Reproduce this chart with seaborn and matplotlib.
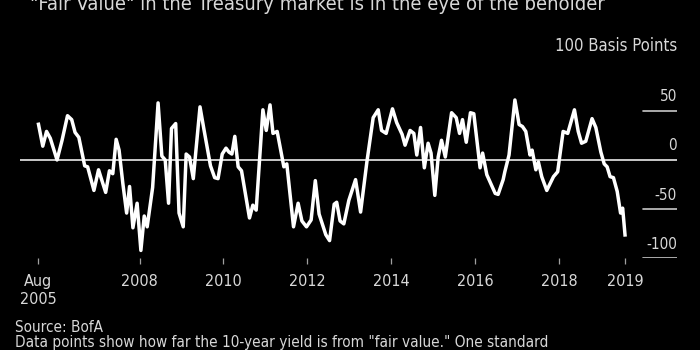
import matplotlib
matplotlib.use("Agg")
import matplotlib.pyplot as plt
import matplotlib.transforms as mtransforms
import numpy as np
import pandas as pd
import seaborn as sns

# Distance of the 10-year yield from "fair value", in basis points
years = [
    2005.58, 2005.69, 2005.78, 2005.87, 2006.03, 2006.15, 2006.28, 2006.38, 2006.46, 2006.55,
    2006.69, 2006.76, 2006.91, 2007.02, 2007.19, 2007.28, 2007.36, 2007.44, 2007.51, 2007.60,
    2007.69, 2007.76, 2007.84, 2007.94, 2008.03, 2008.11, 2008.18, 2008.31, 2008.44, 2008.53,
    2008.61, 2008.69, 2008.76, 2008.86, 2008.94, 2009.04, 2009.11, 2009.19, 2009.28, 2009.44,
    2009.53, 2009.69, 2009.79, 2009.87, 2009.97, 2010.06, 2010.13, 2010.20, 2010.27, 2010.35,
    2010.43, 2010.62, 2010.70, 2010.78, 2010.94, 2011.02, 2011.11, 2011.18, 2011.28, 2011.44,
    2011.51, 2011.67, 2011.78, 2011.87, 2011.98, 2012.09, 2012.19, 2012.28, 2012.44, 2012.53,
    2012.64, 2012.70, 2012.78, 2012.87, 2012.99, 2013.15, 2013.27, 2013.42, 2013.57, 2013.69,
    2013.77, 2013.88, 2014.03, 2014.13, 2014.26, 2014.33, 2014.45, 2014.54, 2014.61, 2014.70,
    2014.79, 2014.88, 2014.95, 2015.04, 2015.12, 2015.20, 2015.29, 2015.44, 2015.55, 2015.63,
    2015.70, 2015.79, 2015.89, 2015.97, 2016.12, 2016.18, 2016.28, 2016.48, 2016.55, 2016.67,
    2016.71, 2016.81, 2016.95, 2017.05, 2017.13, 2017.21, 2017.31, 2017.36, 2017.45, 2017.51,
    2017.59, 2017.71, 2017.87, 2017.97, 2018.10, 2018.21, 2018.37, 2018.46, 2018.54, 2018.64,
    2018.79, 2018.88, 2019.00, 2019.08, 2019.15, 2019.22, 2019.30, 2019.39, 2019.47, 2019.52,
    2019.58,
]
deviation_bp = [
    38, 14, 29, 22, 0, 20, 45, 41, 28, 23,
    -6, -7, -31, -10, -33, -11, -14, 21, 10, -24,
    -54, -27, -69, -44, -92, -57, -68, -28, 58, 4,
    0, -44, 32, 37, -54, -68, 6, 3, -19, 54,
    32, -6, -18, -19, 6, 12, 8, 6, 24, -7,
    -11, -59, -46, -51, 51, 30, 56, 27, 29, -7,
    -4, -68, -44, -62, -68, -61, -21, -55, -76, -82,
    -45, -43, -62, -65, -41, -20, -53, -2, 43, 51,
    30, 27, 52, 38, 26, 15, 30, 27, 5, 33,
    -8, 17, 7, -36, 3, 20, 3, 48, 43, 27,
    41, 18, 48, 47, -8, 7, -15, -34, -35, -20,
    -12, 5, 61, 36, 34, 29, 5, 10, -10, -2,
    -17, -31, -17, -12, 29, 27, 51, 29, 17, 19,
    42, 33, 8, -4, -7, -17, -18, -32, -54, -49,
    -78,
]

x_ticks = [2005.58, 2008, 2010, 2012, 2014, 2016, 2018, 2019.58]
x_tick_labels = ["Aug\n2005", "2008", "2010", "2012", "2014", "2016", "2018", "2019"]
y_levels = [50, 0, -50, -100]
y_level_labels = ["50", "0", "-50", "-100"]

title = '"Fair Value" in the Treasury market is in the eye of the beholder'
unit_label = "100 Basis Points"
source_note = "Source: BofA"
footnote = 'Data points show how far the 10-year yield is from "fair value." One standard'

sns.set_style("dark", {"axes.facecolor": "black", "figure.facecolor": "black"})
plt.rcParams["font.family"] = ["DejaVu Sans"]
plt.rcParams["font.stretch"] = "condensed"

text_color = "#d8d8d8"
bg = "black"

fig = plt.figure(figsize=(7, 3.5), dpi=100, facecolor=bg)
ax = fig.add_axes([20 / 700, 1 - 258.3 / 350, 657 / 700, (258.3 - 61.6) / 350])
ax.set_facecolor(bg)

df = pd.DataFrame({"year": years, "bp": deviation_bp})
sns.lineplot(data=df, x="year", y="bp", ax=ax, color="white", linewidth=2.5,
             solid_joinstyle="round", solid_capstyle="butt", zorder=3)

ax.set_xlim(2005.147, 2020.816)
ax.set_ylim(-100, 100)
ax.grid(False)
for s in ax.spines.values():
    s.set_visible(False)

# Zero line across the full width, short stubs for the other levels
ax.axhline(0, color="#c8c8c8", linewidth=1.4, zorder=2)
stub_start = (643 - 20) / 657
for v in y_levels:
    if v != 0:
        ax.axhline(v, xmin=stub_start, xmax=1.0, color="#c8c8c8", linewidth=1.2)

# Level labels sit above their lines at the right edge
label_tf = mtransforms.offset_copy(ax.get_yaxis_transform(), fig=fig, x=0, y=14, units="dots")
for v, lab in zip(y_levels, y_level_labels):
    ax.text(1.0, v, lab, transform=label_tf, ha="right", va="center",
            color=text_color, fontsize=11)

ax.set_yticks([])
ax.set_xticks(x_ticks)
ax.set_xticklabels(x_tick_labels, color=text_color, fontsize=11.5, linespacing=1.25)
ax.tick_params(axis="x", direction="out", length=4, width=0.9, color="#a0a0a0", pad=7,
               bottom=True)
ax.set_xlabel("")
ax.set_ylabel("")

fig.text(677 / 700, 1 - 46 / 350, unit_label, ha="right", va="center",
         color=text_color, fontsize=12)
fig.text(30 / 700, 1 - 10 / 350, title, ha="left", va="baseline",
         color=text_color, fontsize=14.5)
fig.text(15 / 700, 1 - 327 / 350, source_note, ha="left", va="center",
         color=text_color, fontsize=11)
fig.text(15 / 700, 1 - 342 / 350, footnote, ha="left", va="center",
         color=text_color, fontsize=11)

fig.savefig("out.png", dpi=100, facecolor=bg)
